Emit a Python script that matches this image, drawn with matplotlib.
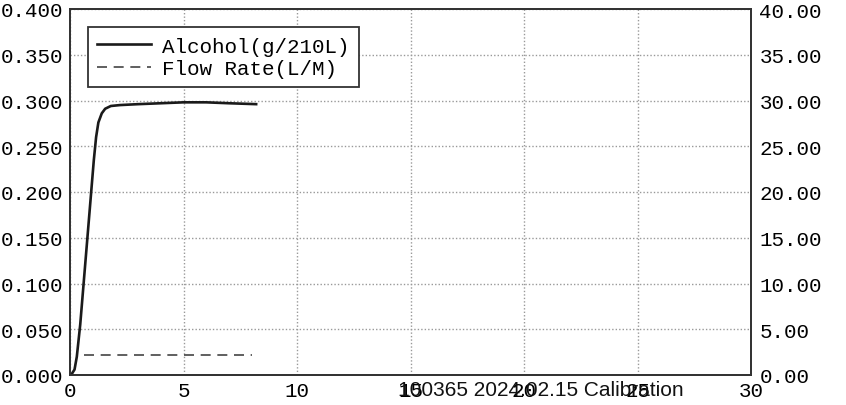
import matplotlib.pyplot as plt

# alcohol curve (left axis, g/210L)
time_s = [0, 0.1, 0.2, 0.3, 0.45, 0.6, 0.75, 0.9, 1.05, 1.15, 1.25, 1.4,
          1.55, 1.8, 2.2, 3, 4, 5, 6, 7, 8.2]
alcohol = [0, 0.002, 0.006, 0.02, 0.055, 0.1, 0.145, 0.19, 0.235, 0.26,
           0.276, 0.286, 0.291, 0.294, 0.295, 0.296, 0.297, 0.298, 0.298,
           0.297, 0.296]

# flow rate (right axis, L/M)
flow_time = [0.6, 8.0]
flow_rate = [2.2, 2.2]

x_ticks = [0, 5, 10, 15, 20, 25, 30]
left_ticks = [0.0, 0.05, 0.1, 0.15, 0.2, 0.25, 0.3, 0.35, 0.4]
right_ticks = [0, 5, 10, 15, 20, 25, 30, 35, 40]

mono = 'Liberation Mono'

fig = plt.figure(figsize=(8.46, 4.06), dpi=100)
ax = fig.add_axes([70 / 846, 30 / 406, 681 / 846, 366 / 406])
ax2 = ax.twinx()

l1, = ax.plot(time_s, alcohol, color='#1a1a1a', lw=1.9, label='Alcohol(g/210L)')
l2, = ax2.plot(flow_time, flow_rate, color='#444444', lw=1.2, ls=(0, (6, 4)),
               label='Flow Rate(L/M)')

ax.set_xlim(0, 30)
ax.set_ylim(0, 0.4)
ax2.set_ylim(0, 40)
ax.set_xticks(x_ticks)
ax.set_yticks(left_ticks)
ax2.set_yticks(right_ticks)
ax.set_yticklabels([f'{v:.3f}' for v in left_ticks], family=mono, fontsize=15)
ax2.set_yticklabels([f'{v:.2f}' for v in right_ticks], family=mono, fontsize=15)
ax.set_xticklabels([str(v) for v in x_ticks], family=mono, fontsize=15)

ax.grid(True, color='#999999', ls=(0, (1, 1.5)), lw=1)
ax.tick_params(length=0, pad=5)
ax.tick_params(axis='x', pad=4)
ax2.tick_params(length=0, pad=6)
for a in (ax, ax2):
    for s in a.spines.values():
        s.set_color('#333333')
        s.set_linewidth(1.3)

leg = ax.legend(handles=[l1, l2], loc='upper left', bbox_to_anchor=(0.026, 0.95),
                prop={'family': mono, 'size': 15}, fancybox=False,
                edgecolor='#333333', framealpha=1, handlelength=2.6,
                borderpad=0.45, labelspacing=0.15, handletextpad=0.5,
                borderaxespad=0)
leg.get_frame().set_linewidth(1.3)

fig.text(541 / 846, 1 - 391 / 406, '100365 2024.02.15 Calibration',
         family='Liberation Sans', fontsize=15, ha='center', va='center',
         color='#111111')

fig.savefig('out.png', dpi=100)
